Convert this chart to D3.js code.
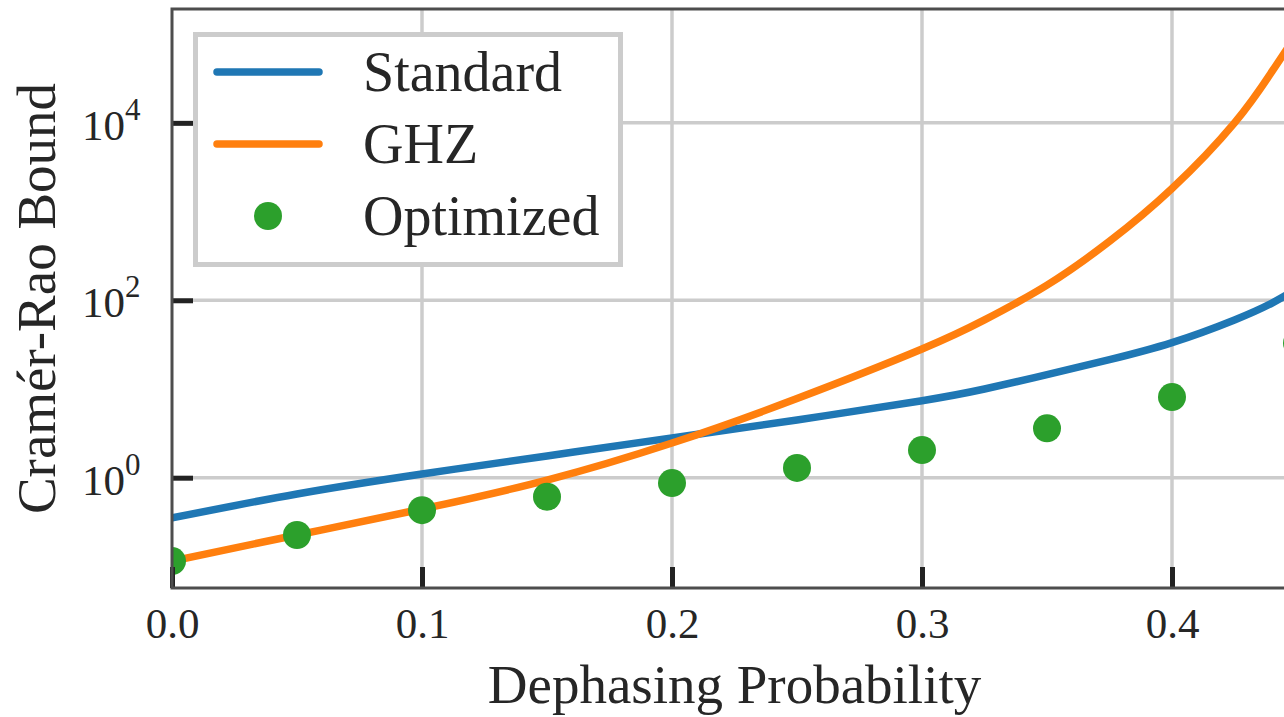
<!DOCTYPE html>
<html>
<head>
<meta charset="utf-8">
<title>Cramér-Rao Bound vs Dephasing Probability</title>
<script src="https://d3js.org/d3.v7.min.js"></script>
<style>
  body { margin: 0; background: #fff; }
  svg { display: block; }
  text { font-family: "Liberation Serif", "Times New Roman", serif; fill: #262626; }
</style>
</head>
<body>
<div id="graph"></div>
<script>
// data
var stdP   = [0, 0.05, 0.1, 0.15, 0.2, 0.25, 0.3, 0.325, 0.35, 0.375, 0.4, 0.425, 0.44, 0.45];
var stdCRB = [0.352, 0.655, 1.10, 1.76, 2.81, 4.48, 7.38, 10.0, 14.5, 21.4, 33.3, 60, 93, 135];

var ghzP   = [0, 0.05, 0.1, 0.15, 0.2, 0.25, 0.3, 0.325, 0.35, 0.375, 0.4, 0.425, 0.44, 0.45];
var ghzCRB = [0.115, 0.226, 0.444, 0.94, 2.46, 7.8, 28.2, 60, 148, 462, 1820, 10000, 38000, 100000];

var optP   = [0, 0.05, 0.1, 0.15, 0.2, 0.25, 0.3, 0.35, 0.4, 0.45];
var optCRB = [0.115, 0.226, 0.43, 0.61, 0.87, 1.29, 2.05, 3.6, 8.1, 33];

var xTicks = [0, 0.1, 0.2, 0.3, 0.4];
var xTickLabels = ["0.0", "0.1", "0.2", "0.3", "0.4"];
var yTicks = [1, 100, 10000];
var yTickBase = ["10", "10", "10"];
var yTickExp = ["0", "2", "4"];

var seriesNames = ["Standard", "GHZ", "Optimized"];
var colors = ["#1f77b4", "#ff7f0e", "#2ca02c"];

var width = 1284, height = 717;
var margin = {top: 9, left: 172, bottom: 129};
var plotRight = 1297;

var svg = d3.select("#graph").append("svg")
    .attr("width", width)
    .attr("height", height);

var x = d3.scaleLinear()
    .domain([0, 0.45])
    .range([margin.left, plotRight]);

var y = d3.scaleLog()
    .domain([0.0571, 192000])
    .range([height - margin.bottom, margin.top]);

var y0 = height - margin.bottom;

svg.append("clipPath").attr("id", "plotclip")
  .append("rect")
    .attr("x", margin.left).attr("y", margin.top)
    .attr("width", plotRight - margin.left).attr("height", y0 - margin.top);

// grid
var grid = svg.append("g");
grid.selectAll(".vg").data(xTicks.slice(1)).enter().append("line")
    .attr("x1", function(d) { return x(d); }).attr("x2", function(d) { return x(d); })
    .attr("y1", margin.top).attr("y2", y0)
    .attr("stroke", "#cccccc").attr("stroke-width", 3.5);
grid.selectAll(".hg").data(yTicks).enter().append("line")
    .attr("x1", margin.left).attr("x2", plotRight)
    .attr("y1", function(d) { return y(d); }).attr("y2", function(d) { return y(d); })
    .attr("stroke", "#cccccc").attr("stroke-width", 3.5);

// data
var plot = svg.append("g").attr("clip-path", "url(#plotclip)");

var line = d3.line()
    .x(function(d) { return x(d[0]); })
    .y(function(d) { return y(d[1]); })
    .curve(d3.curveNatural);

plot.append("path")
    .datum(d3.zip(stdP, stdCRB))
    .attr("d", line)
    .attr("fill", "none")
    .attr("stroke", colors[0])
    .attr("stroke-width", 7.5);

plot.append("path")
    .datum(d3.zip(ghzP, ghzCRB))
    .attr("d", line)
    .attr("fill", "none")
    .attr("stroke", colors[1])
    .attr("stroke-width", 7.5);

plot.selectAll(".opt")
    .data(d3.zip(optP, optCRB))
    .enter().append("circle")
    .attr("cx", function(d) { return x(d[0]); })
    .attr("cy", function(d) { return y(d[1]); })
    .attr("r", 14)
    .attr("fill", colors[2]);

// ticks (inward)
var xAxis = d3.axisBottom(x).tickValues(xTicks)
    .tickSizeInner(-21).tickSizeOuter(0).tickPadding(19.5)
    .tickFormat(function(d, i) { return xTickLabels[i]; });
var gx = svg.append("g").attr("transform", "translate(0," + y0 + ")").call(xAxis);
gx.select(".domain").remove();
gx.selectAll("line").attr("stroke", "#222").attr("stroke-width", 5);
gx.selectAll("text").attr("font-size", 43).attr("font-family", null).attr("fill", "#262626");

var yAxis = d3.axisLeft(y).tickValues(yTicks)
    .tickSizeInner(-21).tickSizeOuter(0).tickFormat("");
var gy = svg.append("g").attr("transform", "translate(" + margin.left + ",0)").call(yAxis);
gy.select(".domain").remove();
gy.selectAll("line").attr("stroke", "#222").attr("stroke-width", 5);

svg.append("g").selectAll("text").data(yTicks).enter().append("text")
    .attr("x", 125)
    .attr("y", function(d) { return y(d) + 17; })
    .attr("text-anchor", "end")
    .attr("font-size", 43)
    .text(function(d, i) { return yTickBase[i]; });
svg.append("g").selectAll("text").data(yTicks).enter().append("text")
    .attr("x", 125)
    .attr("y", function(d) { return y(d) - 3; })
    .attr("font-size", 31)
    .text(function(d, i) { return yTickExp[i]; });

// frame
svg.append("rect")
    .attr("x", margin.left).attr("y", margin.top)
    .attr("width", plotRight - margin.left).attr("height", y0 - margin.top)
    .attr("fill", "none").attr("stroke", "#4d4d4d").attr("stroke-width", 3);

// axis labels
svg.append("text")
    .attr("x", (margin.left + plotRight) / 2)
    .attr("y", 703)
    .attr("text-anchor", "middle")
    .attr("font-size", 55)
    .text("Dephasing Probability");

svg.append("text")
    .attr("transform", "translate(55," + ((margin.top + y0) / 2) + ") rotate(-90)")
    .attr("text-anchor", "middle")
    .attr("font-size", 55)
    .text("Cramér-Rao Bound");

// legend
var legend = svg.append("g");
legend.append("rect")
    .attr("x", 195.5).attr("y", 34.5).attr("width", 425).attr("height", 230)
    .attr("fill", "#fff").attr("stroke", "#cccccc").attr("stroke-width", 5);

var rowY = [72, 144, 216];
legend.selectAll(".ll").data([0, 1]).enter().append("line")
    .attr("x1", 217).attr("x2", 319)
    .attr("y1", function(i) { return rowY[i]; }).attr("y2", function(i) { return rowY[i]; })
    .attr("stroke", function(i) { return colors[i]; })
    .attr("stroke-width", 7.5)
    .attr("stroke-linecap", "round");
legend.append("circle")
    .attr("cx", 268).attr("cy", rowY[2]).attr("r", 14).attr("fill", colors[2]);
legend.selectAll(".lt").data(seriesNames).enter().append("text")
    .attr("x", 363)
    .attr("y", function(d, i) { return rowY[i] + 19; })
    .attr("font-size", 56)
    .text(function(d) { return d; });
</script>
</body>
</html>
